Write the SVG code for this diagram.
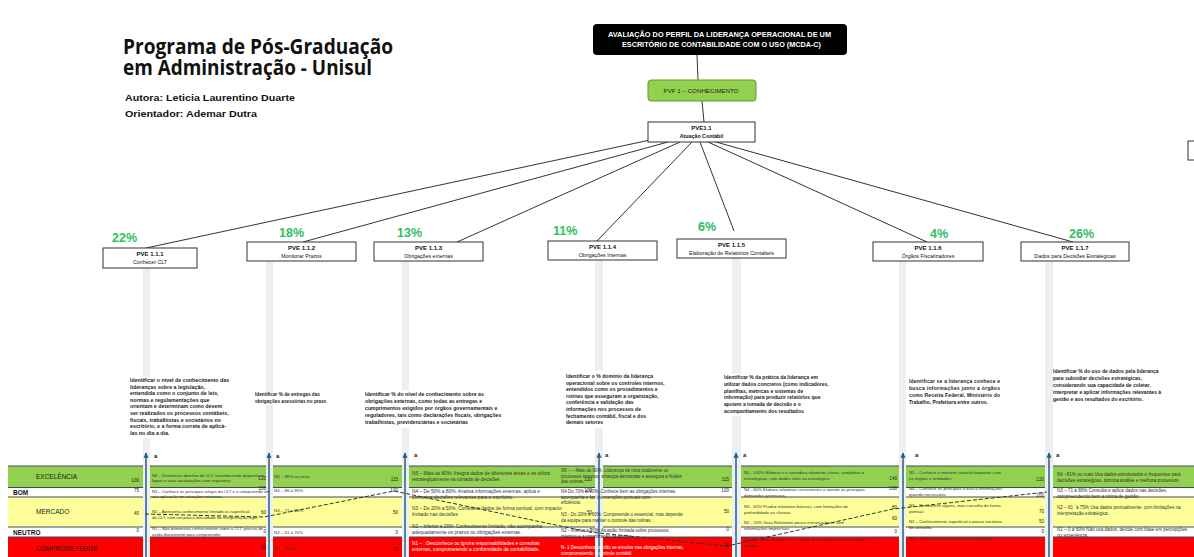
<svg xmlns="http://www.w3.org/2000/svg" width="1194" height="557" viewBox="0 0 1194 557">
<style>
.title{font-family:'Open Sans','Liberation Sans',sans-serif;font-weight:bold;font-size:22px;fill:#111}
.auth{font-family:'Liberation Sans',sans-serif;font-weight:bold;font-size:9.5px;fill:#111}
.hdr{font-family:'Liberation Sans',sans-serif;font-weight:bold;font-size:7px;fill:#fff;text-anchor:middle}
.box{fill:#fff;stroke:#333;stroke-width:1}
.pve{font-family:'Liberation Sans',sans-serif;font-weight:bold;font-size:6px;fill:#111;text-anchor:middle}
.sub{font-family:'Liberation Sans',sans-serif;font-size:5.3px;fill:#111;text-anchor:middle}
.pct{font-family:'Liberation Sans',sans-serif;font-weight:bold;font-size:12.5px;fill:#2cc160}
.conn{stroke:#333;stroke-width:1;fill:none}
.bar{fill:#efefef}
.desc{font-family:'Liberation Sans',sans-serif;font-weight:bold;fill:#222}
.cell{font-family:'Liberation Sans',sans-serif;fill:#333}
.cw{font-family:'Liberation Sans',sans-serif;fill:#fff}
.val{font-family:'Liberation Sans',sans-serif;font-size:4.6px;fill:#222;text-anchor:end}
.lbl{font-family:'Liberation Sans',sans-serif;font-size:6.5px;fill:#1a1a1a}
.lblb{font-family:'Liberation Sans',sans-serif;font-size:6.5px;font-weight:bold;fill:#111}
.sep{stroke:#3c4b5c;stroke-width:1}
.arr{stroke:#1f5f8f;stroke-width:1.5}
.a{font-family:'Liberation Sans',sans-serif;font-weight:bold;font-size:6px;fill:#222}
</style>
<defs>
<marker id="ah" viewBox="0 0 10 10" refX="9" refY="5" markerWidth="3.5" markerHeight="3.5" orient="auto"><path d="M0,0 L10,5 L0,10 z" fill="#1f5f8f"/></marker>
</defs>
<rect width="1194" height="557" fill="#fff"/>

<g id="title">
<text class="title" x="123" y="54" textLength="270" lengthAdjust="spacingAndGlyphs">Programa de Pós-Graduação</text>
<text class="title" x="123" y="75" textLength="249" lengthAdjust="spacingAndGlyphs">em Administração - Unisul</text>
<text class="auth" x="125" y="101" textLength="170" lengthAdjust="spacingAndGlyphs">Autora: Leticia Laurentino Duarte</text>
<text class="auth" x="125" y="117" textLength="132" lengthAdjust="spacingAndGlyphs">Orientador: Ademar Dutra</text>
</g>

<g id="connectors">
<line class="conn" x1="697" y1="55" x2="698" y2="80"/>
<line class="conn" x1="702" y1="101" x2="704" y2="122"/>
<line class="conn" x1="650" y1="140" x2="146" y2="248"/>
<line class="conn" x1="668" y1="142" x2="303" y2="242"/>
<line class="conn" x1="680" y1="142" x2="457" y2="242"/>
<line class="conn" x1="692" y1="142" x2="597" y2="241"/>
<line class="conn" x1="700" y1="142" x2="734" y2="231"/>
<line class="conn" x1="708" y1="142" x2="927" y2="242"/>
<line class="conn" x1="716" y1="142" x2="1073" y2="242"/>
</g>

<g id="root">
<rect x="593" y="24" width="254" height="31" rx="4" fill="#000"/>
<text class="hdr" x="719.5" y="37" textLength="223" lengthAdjust="spacingAndGlyphs">AVALIAÇÃO DO PERFIL DA LIDERANÇA OPERACIONAL DE UM</text>
<text class="hdr" x="721.5" y="46.5" textLength="199" lengthAdjust="spacingAndGlyphs">ESCRITÓRIO DE CONTABILIDADE COM O USO (MCDA-C)</text>
</g>
<g id="pvf1">
<rect x="648" y="80" width="108" height="21" rx="3" fill="#92d050" stroke="#5e9d2d" stroke-width="1"/>
<text x="701" y="93" font-family="Liberation Sans, sans-serif" font-size="6.2" fill="#222" text-anchor="middle">PVF 1 – CONHECIMENTO</text>
</g>
<g id="pve11">
<rect class="box" x="648" y="122" width="107" height="20"/>
<text class="pve" x="701.5" y="129.5" font-size="6.5">PVE1.1</text>
<text class="sub" x="701.5" y="137.5" font-weight="bold" font-size="5.4">Atuação Contábil</text>
</g>

<g id="bars">
<rect class="bar" x="143" y="268" width="7" height="289"/>
<rect class="bar" x="266" y="261" width="7" height="296"/>
<rect class="bar" x="402" y="261" width="7" height="296"/>
<rect class="bar" x="595" y="260" width="8" height="297"/>
<rect class="bar" x="732" y="258" width="9" height="299"/>
<rect class="bar" x="899" y="261" width="7" height="296"/>
<rect class="bar" x="1045" y="261" width="8" height="296"/>
</g>

<g id="pve111">
<text class="pct" x="112" y="242">22%</text>
<rect class="box" x="103" y="248" width="94" height="20"/>
<text class="pve" x="150" y="256">PVE 1.1.1</text>
<text class="sub" x="150" y="264">Conhecer CLT</text>
</g>
<g id="pve112">
<text class="pct" x="279" y="237">18%</text>
<rect class="box" x="247" y="242" width="109" height="19"/>
<text class="pve" x="301.5" y="249.5">PVE 1.1.2</text>
<text class="sub" x="301.5" y="257.5">Monitorar Prazos</text>
</g>
<g id="pve113">
<text class="pct" x="397" y="237">13%</text>
<rect class="box" x="374" y="242" width="109" height="19"/>
<text class="pve" x="428.5" y="249.5">PVE 1.1.3</text>
<text class="sub" x="428.5" y="257.5">Obrigações  externas</text>
</g>
<g id="pve114">
<text class="pct" x="553" y="235">11%</text>
<rect class="box" x="548" y="241" width="109" height="19"/>
<text class="pve" x="602.5" y="248.5">PVE 1.1.4</text>
<text class="sub" x="602.5" y="256.5">Obrigações Internas</text>
</g>
<g id="pve115">
<text class="pct" x="698" y="231">6%</text>
<rect class="box" x="677" y="239" width="109" height="19"/>
<text class="pve" x="731.5" y="246.5">PVE 1.1.5</text>
<text class="sub" x="731.5" y="254.5">Elaboração de Relatórios Contábeis</text>
</g>
<g id="pve116">
<text class="pct" x="930" y="238">4%</text>
<rect class="box" x="873" y="242" width="110" height="19"/>
<text class="pve" x="928" y="249.5">PVE 1.1.6</text>
<text class="sub" x="928" y="257.5">Órgãos Fiscalizadores</text>
</g>
<g id="pve117">
<text class="pct" x="1069" y="238">26%</text>
<rect class="box" x="1021" y="242" width="108" height="19"/>
<text class="pve" x="1075" y="249.5">PVE 1.1.7</text>
<text class="sub" x="1075" y="257.5">Dados para Decisões Estratégicas</text>
</g>
<g id="edge-box"><rect class="box" x="1188" y="141" width="20" height="19"/></g>

<g id="descriptions">
<rect x="128" y="377" width="114" height="61" fill="#fff"/>
<text class="desc" font-size="5.3"><tspan x="130" y="382">Identificar o nível de conhecimento das</tspan><tspan x="130" y="388.6">lideranças sobre a legislação,</tspan><tspan x="130" y="395.2">entendida como o conjunto de leis,</tspan><tspan x="130" y="401.8">normas e regulamentações que</tspan><tspan x="130" y="408.4">orientam e determinam como devem</tspan><tspan x="130" y="415">ser realizados os processos contábeis,</tspan><tspan x="130" y="421.6">fiscais, trabalhistas e societários no</tspan><tspan x="130" y="428.2">escritório, e a forma correta de aplicá-</tspan><tspan x="130" y="434.8">las no dia a dia.</tspan></text>
<rect x="253" y="392" width="70" height="13" fill="#fff"/>
<text class="desc" font-size="4.7" fill="#444"><tspan x="255" y="396">Identificar % de entregas das</tspan><tspan x="255" y="403">obrigações acessórias no prazo</tspan></text>
<rect x="363" y="390" width="142" height="38" fill="#fff"/>
<text class="desc" font-size="5.2"><tspan x="365" y="396">Identificar % do nível de conhecimento sobre as</tspan><tspan x="365" y="403">obrigações externas, como todas as entregas e</tspan><tspan x="365" y="410">cumprimentos exigidos por órgãos governamentais e</tspan><tspan x="365" y="417">reguladores, tais como declarações fiscais, obrigações</tspan><tspan x="365" y="424">trabalhistas, previdenciárias e societárias</tspan></text>
<rect x="564" y="371" width="106" height="57" fill="#fff"/>
<text class="desc" font-size="5.1"><tspan x="566" y="378">Identificar o % domínio da liderança</tspan><tspan x="566" y="384.6">operacional sobre os controles internos,</tspan><tspan x="566" y="391.2">entendidos como os procedimentos e</tspan><tspan x="566" y="397.8">rotinas que asseguram a organização,</tspan><tspan x="566" y="404.4">conferência e validação das</tspan><tspan x="566" y="411">informações nos processos de</tspan><tspan x="566" y="417.6">fechamento contábil, fiscal e dos</tspan><tspan x="566" y="424.2">demais setores</tspan></text>
<rect x="722" y="374" width="108" height="42" fill="#fff"/>
<text class="desc" font-size="5"><tspan x="724" y="379">Identificar % da prática da liderança em</tspan><tspan x="724" y="385.8">utilizar dados concretos (como indicadores,</tspan><tspan x="724" y="392.6">planilhas, métricas e sistemas de</tspan><tspan x="724" y="399.4">informação) para produzir relatórios que</tspan><tspan x="724" y="406.2">apoiem a tomada de decisão e o</tspan><tspan x="724" y="413">acompanhamento dos resultados</tspan></text>
<text class="desc" font-size="5"><tspan x="909" y="383" textLength="91">Identificar se a liderança conhece e</tspan><tspan x="909" y="390" textLength="91">busca informações junto a órgãos</tspan><tspan x="909" y="397" textLength="91">como Receita Federal, Ministério do</tspan><tspan x="909" y="404">Trabalho, Prefeitura entre outros.</tspan></text>
<text class="desc" font-size="5"><tspan x="1053" y="373">Identificar % do  uso de dados pela liderança</tspan><tspan x="1053" y="380">para subsidiar decisões estratégicas,</tspan><tspan x="1053" y="387">considerando sua capacidade de coletar,</tspan><tspan x="1053" y="394">interpretar e aplicar informações relevantes à</tspan><tspan x="1053" y="401">gestão e aos resultados do escritório.</tspan></text>
</g>

<g id="scale">
<rect x="8" y="466" width="1186" height="21" fill="#92d050"/>
<rect x="8" y="487" width="1186" height="10" fill="#fff"/>
<rect x="8" y="497" width="1186" height="30" fill="#ffff99"/>
<rect x="8" y="527" width="1186" height="10" fill="#fff"/>
<rect x="8" y="537" width="1186" height="20" fill="#ff0000"/>
<line class="sep" x1="8" y1="466" x2="1194" y2="466"/>
<line class="sep" x1="8" y1="487.5" x2="1194" y2="487.5"/>
<line class="sep" x1="8" y1="497" x2="1194" y2="497"/>
<line class="sep" x1="8" y1="527" x2="1194" y2="527"/>
<line class="sep" x1="8" y1="537" x2="1194" y2="537"/>
<rect class="bar" x="143" y="460" width="7" height="97"/>
<rect class="bar" x="266" y="460" width="7" height="97"/>
<rect class="bar" x="402" y="460" width="7" height="97"/>
<rect class="bar" x="595" y="460" width="8" height="97"/>
<rect class="bar" x="732" y="460" width="9" height="97"/>
<rect class="bar" x="899" y="460" width="7" height="97"/>
<rect class="bar" x="1045" y="460" width="8" height="97"/>
<text class="lbl" x="36" y="479">EXCELÊNCIA</text>
<text class="lblb" x="13" y="495">BOM</text>
<text class="lbl" x="36" y="514">MERCADO</text>
<text class="lblb" x="13" y="535">NEUTRO</text>
<text class="lbl" x="36" y="551" fill="#3a0000">COMPROMETEDOR</text>
<text class="val" x="139" y="482">100</text>
<text class="val" x="139" y="492">75</text>
<text class="val" x="139" y="515">40</text>
<text class="val" x="139" y="532">0</text>
</g>

<g id="arrows">
<line class="arr" x1="146" y1="557" x2="146" y2="453" marker-end="url(#ah)"/>
<line class="arr" x1="269" y1="557" x2="269" y2="453" marker-end="url(#ah)"/>
<line class="arr" x1="405" y1="557" x2="405" y2="453" marker-end="url(#ah)"/>
<line class="arr" x1="599" y1="557" x2="599" y2="453" marker-end="url(#ah)"/>
<line class="arr" x1="736" y1="557" x2="736" y2="453" marker-end="url(#ah)"/>
<line class="arr" x1="903" y1="557" x2="903" y2="453" marker-end="url(#ah)"/>
<line class="arr" x1="1049" y1="557" x2="1049" y2="453" marker-end="url(#ah)"/>
<text class="a" x="154" y="458">a</text>
<text class="a" x="276" y="458">a</text>
<text class="a" x="414" y="457">a</text>
<text class="a" x="605" y="457">a</text>
<text class="a" x="743" y="457">a</text>
<text class="a" x="915" y="457">a</text>
<text class="a" x="1056" y="457">a</text>
</g>

<g id="col1">
<text class="cell" font-size="4.2"><tspan x="152" y="476.5">N4 – Demonstra domínio da CLT, reconhecendo dispositivos</tspan><tspan x="152" y="482">legais e suas atualizações com segurança</tspan><tspan x="152" y="492.5">N3 – Conhece os principais artigos da CLT e o compreende em</tspan><tspan x="152" y="498">sua aplicação em situações rotineiras</tspan><tspan x="152" y="513">N2 – Apresenta conhecimento limitado ou superficial</tspan><tspan x="152" y="518.5">da CLT, com um pouco dificuldade de interpretação legal</tspan><tspan x="152" y="530">N1 – Não demonstra conhecimento sobre a CLT, precisa de</tspan><tspan x="152" y="535.5">ajuda diariamente para compreender</tspan></text>
<text class="val" x="266" y="480">120</text>
<text class="val" x="266" y="490">100</text>
<text class="val" x="266" y="514">60</text>
<text class="val" x="266" y="533">0</text>
<text class="val" x="266" y="549">-50</text>
</g>
<g id="col2">
<text class="cell" font-size="4.4"><tspan x="274" y="478">N5 – 96% ou mais</tspan><tspan x="274" y="491.5">N4 – 86 à 95%</tspan><tspan x="274" y="512">N3 – 71 à 85%</tspan><tspan x="274" y="534">N2 – 61 à 70%</tspan><tspan x="274" y="550">N1 – 0 à 60</tspan></text>
<text class="val" x="398" y="481">115</text>
<text class="val" x="398" y="492">100</text>
<text class="val" x="398" y="514">50</text>
<text class="val" x="398" y="534">0</text>
<text class="val" x="398" y="551">-20</text>
</g>
<g id="col3">
<text class="cell" font-size="4.8"><tspan x="412" y="475">N5 – Mais de 80%: Integra dados de diferentes áreas e os utiliza</tspan><tspan x="412" y="481">estrategicamente na tomada de decisões</tspan><tspan x="412" y="493">N4 – De 50% a 80%: Analisa informações externas, aplica e</tspan><tspan x="412" y="498.5">comunica decisões relevantes para o escritório.</tspan><tspan x="412" y="510">N3 – De 20% a 50%: Considera dados de forma pontual, com impacto</tspan><tspan x="412" y="516">limitado nas decisões</tspan><tspan x="412" y="528">N2 – Inferior a 20%: Conhecimento limitado, não acompanha</tspan><tspan x="412" y="533.5">adequadamente os prazos ou obrigações externas.</tspan></text>
<text class="cw" font-size="4.8"><tspan x="412" y="545">N1 – : Desconhece ou ignora responsabilidades e consultas</tspan><tspan x="412" y="551">externas, comprometendo a conformidade da contabilidade.</tspan></text>
<text class="val" x="592" y="481">120</text>
<text class="val" x="592" y="492">100</text>
<text class="val" x="592" y="514">50</text>
<text class="val" x="592" y="532">0</text>
</g>
<g id="col4">
<text class="cell" font-size="4.5"><tspan x="561" y="472">N5 – – Mais de 90%: Liderança de mira totalmente os</tspan><tspan x="561" y="477.5">processos internos, antecipa demandas e assegura a fluidez</tspan><tspan x="561" y="483">das rotinas.</tspan><tspan x="561" y="493">N4 Do 70% a 90%: Conhece bem as obrigações internas,</tspan><tspan x="561" y="498.5">acompanha e faz intervenções pontuais com</tspan><tspan x="561" y="504">eficiência.</tspan><tspan x="561" y="516">N3 - Do 20% a 60%: Compreende o essencial, mas depende</tspan><tspan x="561" y="521.5">da equipe para manter o controle das rotinas.</tspan><tspan x="561" y="532">N2 - Inferior a 20%: Atuação limitada sobre processos</tspan><tspan x="561" y="537.5">internos e a organização da equipe.</tspan></text>
<text class="cw" font-size="4.5"><tspan x="561" y="549">N- 1 Desconhece ou não se envolve nas obrigações internas,</tspan><tspan x="561" y="554.5">comprometendo o controle contábil.</tspan></text>
<text class="val" x="729" y="481">115</text>
<text class="val" x="729" y="492">100</text>
<text class="val" x="729" y="513">50</text>
<text class="val" x="729" y="531">0</text>
<text class="val" x="729" y="547">-20</text>
</g>
<g id="col5">
<text class="cell" font-size="4.3"><tspan x="744" y="474">N5 - 100% Elabora e e considera relatórios claros, completos e</tspan><tspan x="744" y="480">estratégicos, com dados úteis ao estratégico.</tspan><tspan x="744" y="491">N4 - 80% Elabora relatórios consistentes e atende às principais</tspan><tspan x="744" y="497">demandas gerenciais.</tspan><tspan x="744" y="502">.</tspan><tspan x="744" y="508">N3 - 60% Produz relatórios básicos, com limitações de</tspan><tspan x="744" y="513.5">profundidade ou clareza.</tspan><tspan x="744" y="524">N2 - 20% Gera Relatórios pouco estruturados e com</tspan><tspan x="744" y="529.5">informações imprecisas.</tspan><tspan x="744" y="535">.</tspan><tspan x="744" y="541">N1 Não gera relatórios ou entrega documentos ineficazes para a</tspan><tspan x="744" y="546.5">gestão.</tspan></text>
<text class="val" x="897" y="480">140</text>
<text class="val" x="897" y="490">100</text>
<text class="val" x="897" y="509">80</text>
<text class="val" x="897" y="520">60</text>
<text class="val" x="897" y="533">0</text>
</g>
<g id="col6">
<text class="cell" font-size="4.3"><tspan x="909" y="474">N5 – Conhece e mantém contato frequente com</tspan><tspan x="909" y="480">os órgãos e entidades.</tspan><tspan x="909" y="490">N4 – Conhece os principais e busca informações</tspan><tspan x="909" y="496">quando necessário.</tspan><tspan x="909" y="507">N3 – Reconhece alguns, mas consulta de forma</tspan><tspan x="909" y="513">pontual.</tspan><tspan x="909" y="523">N2 – Conhecimento superficial e pouca iniciativa</tspan><tspan x="909" y="529">de consulta.</tspan><tspan x="909" y="540">N1 – Não conhece nem busca informações.</tspan></text>
<text class="val" x="1044" y="481">120</text>
<text class="val" x="1044" y="497">100</text>
<text class="val" x="1044" y="513">70</text>
<text class="val" x="1044" y="523">50</text>
<text class="val" x="1044" y="533">0</text>
</g>
<g id="col7">
<text class="cell" font-size="4.6"><tspan x="1057" y="476">N4 –81% ou mais Usa dados estruturados e frequentes para</tspan><tspan x="1057" y="481.5">decisões estratégicas, domina análise e melhora processos</tspan><tspan x="1057" y="492">N3 – 71 à 80% Consulta e aplica dados nas decisões,</tspan><tspan x="1057" y="497.5">compreendendo bem a rotina de gestão</tspan><tspan x="1057" y="509">N2 – 61 `à 75% Usa dados pontualmente, com limitações na</tspan><tspan x="1057" y="514.5">interpretação estratégica.</tspan><tspan x="1057" y="531">N1 – 0 à 60% Não usa dados, decide com base em percepções</tspan><tspan x="1057" y="536.5">ou experiência.</tspan><tspan x="1057" y="543">-</tspan></text>
</g>

<g id="profile">
<polyline points="145,514 264,517 394,491 589,532 727,546 893,509 1047,492" fill="none" stroke="#333" stroke-width="1" stroke-dasharray="4 2"/>
</g>
</svg>
